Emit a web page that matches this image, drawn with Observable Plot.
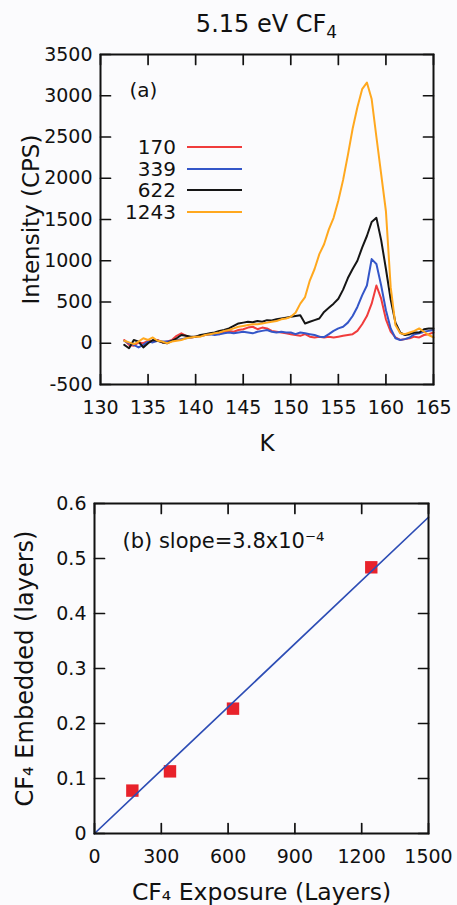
<!DOCTYPE html>
<html><head><meta charset="utf-8">
<script src="https://cdn.jsdelivr.net/npm/d3@7"></script>
<script src="https://cdn.jsdelivr.net/npm/@observablehq/plot@0.6"></script>
<style>
body{margin:0;background:#fbfbfd;font-family:"DejaVu Sans",sans-serif;color:#111;}
#wrap{position:relative;width:457px;height:905px;overflow:hidden;background:#fbfbfd;}
#wrap svg{position:absolute;left:0;}
#title{position:absolute;left:100px;width:333px;top:12px;text-align:center;font-size:24px;line-height:24px;}
#title sub{font-size:17px;vertical-align:-6px;line-height:0;}
.lg-label{position:absolute;left:96px;width:80px;text-align:right;font-size:20px;line-height:20px;}
.lg-line{position:absolute;left:187px;width:55px;height:2px;}
</style></head>
<body><div id="wrap"><div id="title">5.15 eV CF<sub>4</sub></div></div>
<script>
// ---- panel (a) data ----
const temperatureK = [132.5,133,133.5,134,134.5,135,135.5,136,136.5,137,137.5,138,138.5,139,139.5,140,140.5,141,141.5,142,142.5,143,143.5,144,144.5,145,145.5,146,146.5,147,147.5,148,148.5,149,149.5,150,150.5,151,151.5,152,152.5,153,153.5,154,154.5,155,155.5,156,156.5,157,157.5,158,158.5,159,159.5,160,160.5,161,161.5,162,162.5,163,163.5,164,164.5,165];
const intensity170 = [40,-20,-30,10,0,30,20,40,10,20,40,90,120,90,70,80,90,100,110,120,110,140,150,140,160,170,190,200,170,190,180,150,140,130,120,110,100,90,110,80,70,80,70,80,70,80,90,100,110,150,230,330,480,700,540,290,140,70,40,50,60,80,70,100,110,130];
const intensity339 = [30,0,-20,-50,-20,20,10,30,20,20,30,40,50,60,70,80,90,100,110,100,110,120,130,120,130,140,130,120,140,150,160,140,130,140,130,130,110,130,120,110,100,80,75,110,150,180,200,250,330,440,580,700,1020,960,700,400,180,60,40,50,70,110,120,140,150,160];
const intensity622 = [-20,-60,40,20,-50,0,40,30,10,0,30,60,100,90,80,80,100,110,120,130,150,160,180,210,240,250,260,255,270,260,280,275,290,300,310,320,330,340,240,260,280,300,380,430,480,540,650,790,900,1000,1160,1300,1470,1520,1250,900,530,250,130,100,110,130,130,170,180,180];
const intensity1243 = [30,10,-10,20,60,40,70,30,20,0,20,30,40,60,70,80,80,100,110,120,130,150,160,180,200,210,220,230,230,240,250,260,270,290,300,320,370,480,560,760,900,1080,1200,1380,1520,1730,1980,2280,2600,2860,3080,3160,2960,2500,2050,1600,680,220,120,110,130,150,180,140,100,70];
const seriesLabels = ["170","339","622","1243"];
const seriesColors = ["#f03c3c","#3456c8","#151515","#ffa81e"];
const xTicksA = [130,135,140,145,150,155,160,165];
const yTicksA = [-500,0,500,1000,1500,2000,2500,3000,3500];

// ---- panel (b) data ----
const exposureLayers = [170,339,622,1243];
const embeddedLayers = [0.078,0.113,0.227,0.484];
const fitX = [0,1500];
const fitY = [0,0.575];
const xTicksB = [0,300,600,900,1200,1500];
const yTicksB = [0,0.1,0.2,0.3,0.4,0.5,0.6];

const seriesValues = [intensity170,intensity339,intensity622,intensity1243];
const rowsA = [];
seriesValues.forEach((vals,s)=>vals.forEach((v,i)=>rowsA.push({K:temperatureK[i], I:v, s:seriesLabels[s]})));
const pointsB = exposureLayers.map((x,i)=>({x, y:embeddedLayers[i]}));
const fitRows = fitX.map((x,i)=>({x, y:fitY[i]}));

const font = "DejaVu Sans";
const T = 10; // inward tick length in px

// inward tick segments on all four sides, expressed in each panel's data space
function tickSegments(xt, yt, xd, yd, fw, fh){
  const dx = (xd[1]-xd[0])*T/fw, dy = (yd[1]-yd[0])*T/fh;
  const segs = [];
  xt.forEach((x,i)=>{
    segs.push({id:"b"+i, x, y:yd[0]}, {id:"b"+i, x, y:yd[0]+dy});
    segs.push({id:"t"+i, x, y:yd[1]}, {id:"t"+i, x, y:yd[1]-dy});
  });
  yt.forEach((y,i)=>{
    segs.push({id:"l"+i, x:xd[0], y}, {id:"l"+i, x:xd[0]+dx, y});
    segs.push({id:"r"+i, x:xd[1], y}, {id:"r"+i, x:xd[1]-dx, y});
  });
  return segs;
}

function frameAxes(xt, yt, yfmt, xd, yd, fw, fh){
  return [
    Plot.axisX(xt,{anchor:"bottom", tickSize:0, tickPadding:16, tickFormat:d=>String(d), fontSize:19, label:null}),
    Plot.axisY(yt,{anchor:"left", tickSize:0, tickPadding:8, tickFormat:yfmt, fontSize:19, label:null}),
    Plot.line(tickSegments(xt, yt, xd, yd, fw, fh), {x:"x", y:"y", z:"id", stroke:"#111", strokeWidth:1.7}),
    Plot.frame({stroke:"#111", strokeWidth:2})
  ];
}

const xDomA = [130,165], yDomA = [-500,3500];
const xDomB = [0,1500], yDomB = [0,0.6];

const plotA = Plot.plot({
  width:457, height:430, marginTop:14, marginBottom:86, marginLeft:100, marginRight:24,
  style:{background:"transparent", fontFamily:font, fontSize:"19px", color:"#111", overflow:"visible"},
  x:{domain:xDomA, label:null},
  y:{domain:yDomA, label:null},
  color:{domain:seriesLabels, range:seriesColors},
  marks:[
    ...seriesLabels.map(lab=>Plot.line(rowsA.filter(d=>d.s===lab), {x:"K", y:"I", stroke:"s", strokeWidth:2})),
    Plot.text(["(a)"],{text:d=>d, frameAnchor:"top-left", dx:29, dy:36, textAnchor:"start", lineAnchor:"middle", fontSize:20}),
    Plot.text(["K"],{text:d=>d, frameAnchor:"bottom", dy:59, textAnchor:"middle", lineAnchor:"middle", fontSize:23}),
    Plot.text(["Intensity (CPS)"],{text:d=>d, frameAnchor:"left", dx:-69, rotate:-90, textAnchor:"middle", lineAnchor:"middle", fontSize:23}),
    ...frameAxes(xTicksA, yTicksA, d=>String(d), xDomA, yDomA, 457-100-24, 430-14-86)
  ]
});
plotA.style.top = "40px";

const plotB = Plot.plot({
  width:457, height:435, marginTop:33, marginBottom:72, marginLeft:94, marginRight:29,
  style:{background:"transparent", fontFamily:font, fontSize:"19px", color:"#111", overflow:"visible"},
  x:{domain:xDomB, label:null},
  y:{domain:yDomB, label:null},
  marks:[
    Plot.dot(pointsB,{x:"x", y:"y", symbol:"square", r:7, fill:"#e8222b"}),
    Plot.line(fitRows,{x:"x", y:"y", stroke:"#2d4db5", strokeWidth:1.7}),
    Plot.text(["(b) slope=3.8x10\u207B\u2074"],{text:d=>d, frameAnchor:"top-left", dx:28, dy:38, textAnchor:"start", lineAnchor:"middle", fontSize:21}),
    Plot.text(["CF\u2084 Exposure (Layers)"],{text:d=>d, frameAnchor:"bottom", dy:59, textAnchor:"middle", lineAnchor:"middle", fontSize:23.5}),
    Plot.text(["CF\u2084 Embedded (layers)"],{text:d=>d, frameAnchor:"left", dx:-69, rotate:-90, textAnchor:"middle", lineAnchor:"middle", fontSize:24}),
    ...frameAxes(xTicksB, yTicksB, d=>d===0?"0":d.toFixed(1), xDomB, yDomB, 457-94-29, 435-33-72)
  ]
});
plotB.style.top = "470px";

const wrap = document.getElementById("wrap");
wrap.appendChild(plotA);
wrap.appendChild(plotB);

// legend for panel (a)
const legendY = [147,169,190,212];
seriesLabels.forEach((lab,i)=>{
  const t = document.createElement("div");
  t.className = "lg-label"; t.textContent = lab; t.style.top = (legendY[i]-10)+"px";
  const l = document.createElement("div");
  l.className = "lg-line"; l.style.background = seriesColors[i]; l.style.top = (legendY[i]-1)+"px";
  wrap.appendChild(t); wrap.appendChild(l);
});
</script>
</body></html>
